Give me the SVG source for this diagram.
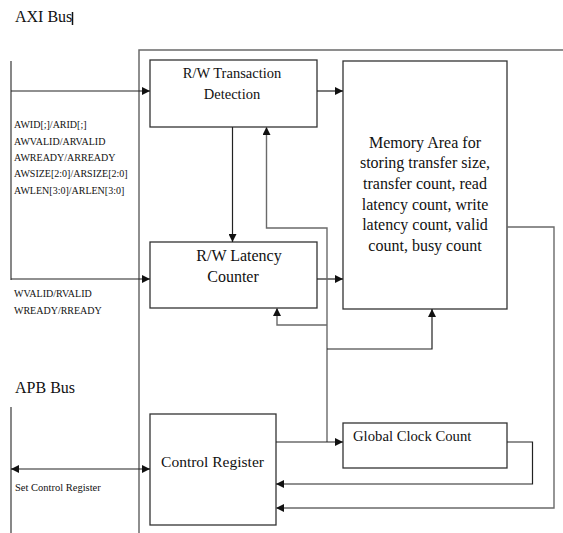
<svg xmlns="http://www.w3.org/2000/svg" width="563" height="533" viewBox="0 0 563 533">
<style>
text{font-family:"Liberation Serif","Times New Roman",serif;fill:#111}
.t{font-size:14.5px}
.m{font-size:16px}
.bus{font-size:16px}
.sig{font-size:10px}
.box{fill:#fff;stroke:#333;stroke-width:1.3}
.frame{fill:none;stroke:#6a6a6a;stroke-width:1.5}
.ln{fill:none;stroke:#222;stroke-width:1.2}
.gl{fill:none;stroke:#6a6a6a;stroke-width:1.4}
.bl{fill:none;stroke:#6a6a6a;stroke-width:1.6}
</style>
<defs>
<marker id="ah" viewBox="0 0 10 10" refX="10" refY="5" markerWidth="8" markerHeight="8" markerUnits="userSpaceOnUse" orient="auto">
<path d="M0,0 L10,5 L0,10 z" fill="#111"/>
</marker>
</defs>
<rect width="563" height="533" fill="#fff"/>
<g id="labels">
<text class="bus" x="15" y="22">AXI Bus</text>
<line x1="72.5" y1="12" x2="72.5" y2="25" stroke="#111" stroke-width="1.5"/>
<text class="bus" x="15" y="393">APB Bus</text>
<text class="sig" x="14" y="128">AWID[;]/ARID[;]</text>
<text class="sig" x="14" y="145">AWVALID/ARVALID</text>
<text class="sig" x="14" y="161">AWREADY/ARREADY</text>
<text class="sig" x="14" y="177">AWSIZE[2:0]/ARSIZE[2:0]</text>
<text class="sig" x="14" y="194">AWLEN[3:0]/ARLEN[3:0]</text>
<text class="sig" x="14" y="297">WVALID/RVALID</text>
<text class="sig" x="14" y="314">WREADY/RREADY</text>
<text class="sig" x="15" y="491" style="font-size:10.5px">Set Control Register</text>
</g>
<g id="frame">
<polyline class="frame" points="139,533 139,50 563,50"/>
<line class="bl" x1="11" y1="61" x2="11" y2="280"/>
<line class="bl" x1="11" y1="407" x2="11" y2="533"/>
</g>
<g id="transaction">
<rect class="box" x="150" y="60" width="167" height="67"/>
<text class="t" x="232" y="78" text-anchor="middle">R/W Transaction</text>
<text class="t" x="232" y="99" text-anchor="middle">Detection</text>
</g>
<g id="latency">
<rect class="box" x="150" y="242" width="167" height="66"/>
<text class="m" x="239" y="261" text-anchor="middle">R/W Latency</text>
<text class="m" x="233" y="282" text-anchor="middle">Counter</text>
</g>
<g id="memory">
<rect class="box" x="343" y="61" width="164" height="248"/>
<text class="m" x="425" y="148" text-anchor="middle">Memory Area for</text>
<text class="m" x="425" y="168" text-anchor="middle">storing transfer size,</text>
<text class="m" x="425" y="189" text-anchor="middle">transfer count, read</text>
<text class="m" x="425" y="210" text-anchor="middle">latency count, write</text>
<text class="m" x="425" y="230" text-anchor="middle">latency count, valid</text>
<text class="m" x="425" y="251" text-anchor="middle">count, busy count</text>
</g>
<g id="control">
<rect class="box" x="150" y="414" width="126" height="111"/>
<text class="t" x="212.5" y="467" text-anchor="middle" style="font-size:15.5px">Control Register</text>
</g>
<g id="clock">
<rect class="box" x="343" y="423" width="164" height="45"/>
<text class="t" x="353" y="441" style="font-size:14.7px">Global Clock Count</text>
</g>
<g id="connectors">
<line class="ln" x1="11" y1="91" x2="150" y2="91" marker-end="url(#ah)"/>
<line class="ln" x1="317" y1="91" x2="343" y2="91" marker-end="url(#ah)"/>
<line class="ln" x1="11" y1="279" x2="150" y2="279" marker-end="url(#ah)"/>
<line class="ln" x1="317" y1="279" x2="343" y2="279" marker-end="url(#ah)"/>
<line class="ln" x1="232.5" y1="127" x2="232.5" y2="242" marker-end="url(#ah)"/>
<polyline class="gl" points="327,442 327,228 266.5,228 266.5,127" marker-end="url(#ah)"/>
<polyline class="gl" points="327,325 277,325 277,308" marker-end="url(#ah)"/>
<polyline class="ln" points="327,349 432,349 432,309" marker-end="url(#ah)"/>
<line class="ln" x1="276" y1="442" x2="343" y2="442" marker-end="url(#ah)"/>
<polyline class="ln" points="507,442 532.5,442 532.5,484 276,484" marker-end="url(#ah)"/>
<polyline class="gl" points="507,227 554,227 554,508 276,508" marker-end="url(#ah)"/>
<line class="ln" x1="19" y1="469" x2="142" y2="469"/>
<line class="ln" x1="142" y1="469" x2="150" y2="469" marker-end="url(#ah)"/>
<line class="ln" x1="19" y1="469" x2="11" y2="469" marker-end="url(#ah)"/>
</g>
</svg>
